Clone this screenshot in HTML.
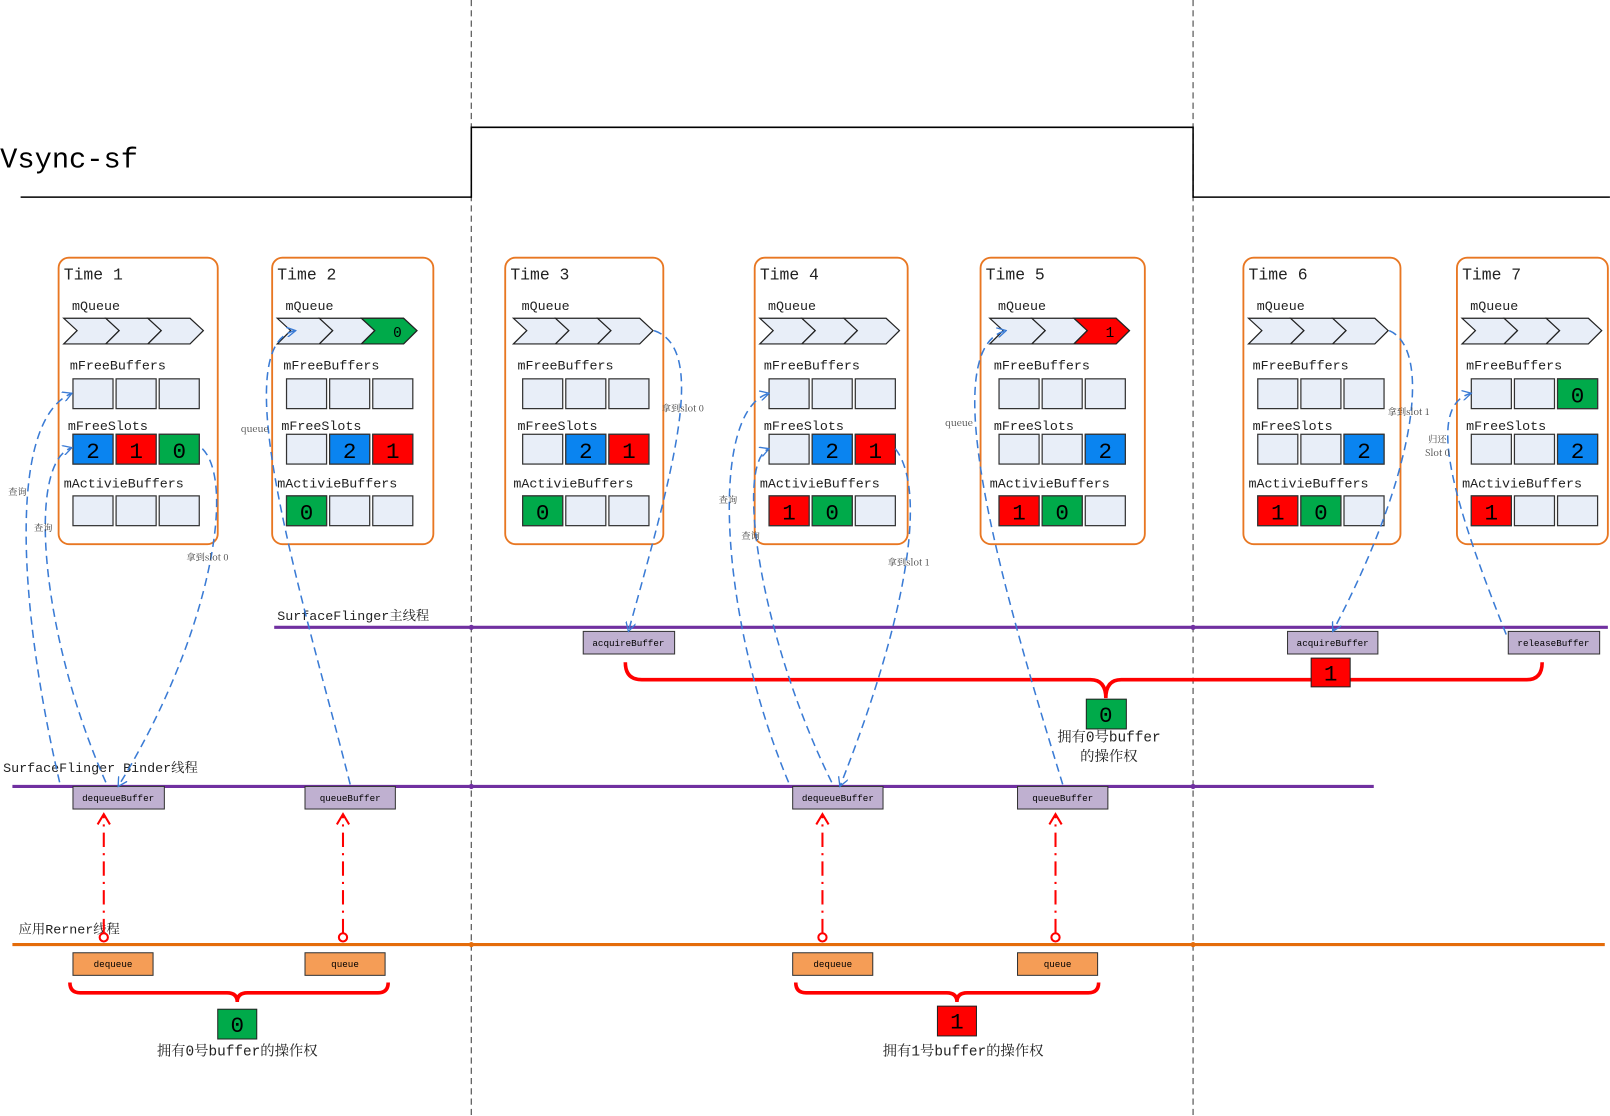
<!DOCTYPE html>
<html><head><meta charset="utf-8"><style>html,body{margin:0;padding:0;background:#fff}svg{display:block}
.c{stroke:#333;stroke-width:1.2}.e{fill:#E8EEF8}.b{fill:#0A84F0}.r{fill:#FF0000}.g{fill:#00AA4A}
.ch{stroke:#222;stroke-width:1.2}
.n{font-size:22px;text-anchor:middle}
.lb{font-size:13px;fill:#222}
</style></head>
<body>
<svg width="1610" height="1116" viewBox="0 0 1568 1087" xmlns="http://www.w3.org/2000/svg" xmlns:xlink="http://www.w3.org/1999/xlink" font-family="Liberation Mono, 'Noto Serif CJK SC', 'Noto Sans CJK SC', monospace">
<defs>
<marker id="ab" markerWidth="10" markerHeight="10" refX="9" refY="5" orient="auto" markerUnits="userSpaceOnUse"><path d="M0,0 L9,5 L0,10" fill="none" stroke="#3A7BD5" stroke-width="1.3"/></marker>
<marker id="ar" markerWidth="14" markerHeight="14" refX="11" refY="7" orient="auto" markerUnits="userSpaceOnUse"><path d="M1,1 L11,7 L1,13" fill="none" stroke="#f00" stroke-width="2"/></marker>
<g id="base">
<polygon class="ch e" points="5,310 46,310 59,322 46,335 5,335 18,322"/>
<polygon class="ch e" points="46,310 87,310 100,322 87,335 46,335 59,322"/>
<polygon class="ch e" points="87,310 128,310 141,322 128,335 87,335 100,322"/>
<rect class="c e" x="14" y="369" width="39" height="29"/><rect class="c e" x="56" y="369" width="39" height="29"/><rect class="c e" x="98" y="369" width="39" height="29"/>
<rect class="c e" x="14" y="423" width="39" height="29"/><rect class="c e" x="56" y="423" width="39" height="29"/><rect class="c e" x="98" y="423" width="39" height="29"/>
<rect class="c e" x="14" y="483" width="39" height="29"/><rect class="c e" x="56" y="483" width="39" height="29"/><rect class="c e" x="98" y="483" width="39" height="29"/>
</g>
</defs>
<line x1="459" y1="0" x2="459" y2="1087" stroke="#666" stroke-dasharray="6,4" stroke-width="1.3"/>
<line x1="1162" y1="0" x2="1162" y2="1087" stroke="#666" stroke-dasharray="6,4" stroke-width="1.3"/>
<polyline points="20,192 459,192 459,124 1162,124 1162,192 1568,192" fill="none" stroke="#000" stroke-width="1.5"/>
<text x="0" y="163" font-size="28">Vsync-sf</text>

<!-- Time 1 -->
<g transform="translate(57,0)">
<rect x="0" y="251" width="155" height="279" rx="10" fill="#fff" stroke="#E87722" stroke-width="1.8"/>
<use href="#base" xlink:href="#base"/>
<text x="5" y="272" font-size="16" fill="#222">Time 1</text>
<text class="lb" x="13" y="302">mQueue</text><text class="lb" x="11" y="360">mFreeBuffers</text><text class="lb" x="9" y="419">mFreeSlots</text><text class="lb" x="5" y="475">mActivieBuffers</text>
<rect class="c b" x="14" y="423" width="39" height="29"/><rect class="c r" x="56" y="423" width="39" height="29"/><rect class="c g" x="98" y="423" width="39" height="29"/>
<text class="n" x="33.5" y="446">2</text><text class="n" x="75.5" y="446">1</text><text class="n" x="117.5" y="446">0</text>
</g>
<!-- Time 2 -->
<g transform="translate(265,0)">
<rect x="0" y="251" width="157" height="279" rx="10" fill="#fff" stroke="#E87722" stroke-width="1.8"/>
<use href="#base" xlink:href="#base"/>
<text x="5" y="272" font-size="16" fill="#222">Time 2</text>
<text class="lb" x="13" y="302">mQueue</text><text class="lb" x="11" y="360">mFreeBuffers</text><text class="lb" x="9" y="419">mFreeSlots</text><text class="lb" x="5" y="475">mActivieBuffers</text>
<polygon class="ch g" points="87,310 128,310 141,322 128,335 87,335 100,322"/><text x="122" y="328" font-size="14" text-anchor="middle">0</text>
<rect class="c b" x="56" y="423" width="39" height="29"/><rect class="c r" x="98" y="423" width="39" height="29"/>
<text class="n" x="75.5" y="446">2</text><text class="n" x="117.5" y="446">1</text>
<rect class="c g" x="14" y="483" width="39" height="29"/><text class="n" x="33.5" y="506">0</text>
</g>
<!-- Time 3 -->
<g transform="translate(492,0)">
<rect x="0" y="251" width="154" height="279" rx="10" fill="#fff" stroke="#E87722" stroke-width="1.8"/>
<g transform="translate(3,0)"><use href="#base" xlink:href="#base"/></g>
<text x="5" y="272" font-size="16" fill="#222">Time 3</text>
<text class="lb" x="16" y="302">mQueue</text><text class="lb" x="12" y="360">mFreeBuffers</text><text class="lb" x="12" y="419">mFreeSlots</text><text class="lb" x="8" y="475">mActivieBuffers</text>
<rect class="c b" x="59" y="423" width="39" height="29"/><rect class="c r" x="101" y="423" width="39" height="29"/>
<text class="n" x="78.5" y="446">2</text><text class="n" x="120.5" y="446">1</text>
<rect class="c g" x="17" y="483" width="39" height="29"/><text class="n" x="36.5" y="506">0</text>
</g>
<!-- Time 4 -->
<g transform="translate(735,0)">
<rect x="0" y="251" width="149" height="279" rx="10" fill="#fff" stroke="#E87722" stroke-width="1.8"/>
<use href="#base" xlink:href="#base"/>
<text x="5" y="272" font-size="16" fill="#222">Time 4</text>
<text class="lb" x="13" y="302">mQueue</text><text class="lb" x="9" y="360">mFreeBuffers</text><text class="lb" x="9" y="419">mFreeSlots</text><text class="lb" x="5" y="475">mActivieBuffers</text>
<rect class="c b" x="56" y="423" width="39" height="29"/><rect class="c r" x="98" y="423" width="39" height="29"/>
<text class="n" x="75.5" y="446">2</text><text class="n" x="117.5" y="446">1</text>
<rect class="c r" x="14" y="483" width="39" height="29"/><rect class="c g" x="56" y="483" width="39" height="29"/>
<text class="n" x="33.5" y="506">1</text><text class="n" x="75.5" y="506">0</text>
</g>
<!-- Time 5 -->
<g transform="translate(955,0)">
<rect x="0" y="251" width="160" height="279" rx="10" fill="#fff" stroke="#E87722" stroke-width="1.8"/>
<g transform="translate(4,0)"><use href="#base" xlink:href="#base"/></g>
<text x="5" y="272" font-size="16" fill="#222">Time 5</text>
<text class="lb" x="17" y="302">mQueue</text><text class="lb" x="13" y="360">mFreeBuffers</text><text class="lb" x="13" y="419">mFreeSlots</text><text class="lb" x="9" y="475">mActivieBuffers</text>
<polygon class="ch r" points="91,310 132,310 145,322 132,335 91,335 104,322"/><text x="126" y="328" font-size="14" text-anchor="middle">1</text>
<rect class="c b" x="102" y="423" width="39" height="29"/><text class="n" x="121.5" y="446">2</text>
<rect class="c r" x="18" y="483" width="39" height="29"/><rect class="c g" x="60" y="483" width="39" height="29"/>
<text class="n" x="37.5" y="506">1</text><text class="n" x="79.5" y="506">0</text>
</g>
<!-- Time 6 -->
<g transform="translate(1211,0)">
<rect x="0" y="251" width="153" height="279" rx="10" fill="#fff" stroke="#E87722" stroke-width="1.8"/>
<use href="#base" xlink:href="#base"/>
<text x="5" y="272" font-size="16" fill="#222">Time 6</text>
<text class="lb" x="13" y="302">mQueue</text><text class="lb" x="9" y="360">mFreeBuffers</text><text class="lb" x="9" y="419">mFreeSlots</text><text class="lb" x="5" y="475">mActivieBuffers</text>
<rect class="c b" x="98" y="423" width="39" height="29"/><text class="n" x="117.5" y="446">2</text>
<rect class="c r" x="14" y="483" width="39" height="29"/><rect class="c g" x="56" y="483" width="39" height="29"/>
<text class="n" x="33.5" y="506">1</text><text class="n" x="75.5" y="506">0</text>
</g>
<!-- Time 7 -->
<g transform="translate(1419,0)">
<rect x="0" y="251" width="147" height="279" rx="10" fill="#fff" stroke="#E87722" stroke-width="1.8"/>
<use href="#base" xlink:href="#base"/>
<text x="5" y="272" font-size="16" fill="#222">Time 7</text>
<text class="lb" x="13" y="302">mQueue</text><text class="lb" x="9" y="360">mFreeBuffers</text><text class="lb" x="9" y="419">mFreeSlots</text><text class="lb" x="5" y="475">mActivieBuffers</text>
<rect class="c g" x="98" y="369" width="39" height="29"/><text class="n" x="117.5" y="392">0</text>
<rect class="c b" x="98" y="423" width="39" height="29"/><text class="n" x="117.5" y="446">2</text>
<rect class="c r" x="14" y="483" width="39" height="29"/><text class="n" x="33.5" y="506">1</text>
</g>

<line x1="267" y1="611" x2="1566" y2="611" stroke="#7030A0" stroke-width="3"/>
<text x="270" y="604" font-size="13" fill="#222">SurfaceFlinger主线程</text>
<line x1="12" y1="766" x2="1338" y2="766" stroke="#7030A0" stroke-width="3"/>
<text x="3" y="752" font-size="13" fill="#222">SurfaceFlinger Binder线程</text>
<line x1="12" y1="920" x2="1563" y2="920" stroke="#E46C0A" stroke-width="3"/>
<text x="18" y="909" font-size="13" fill="#222">应用Rerner线程</text>

<g font-size="9" text-anchor="middle" stroke="#333" stroke-width="1">
<rect x="568" y="615" width="89" height="22" fill="#BFB0D0"/><text x="612" y="629" stroke="none">acquireBuffer</text>
<rect x="1254" y="615" width="88" height="22" fill="#BFB0D0"/><text x="1298" y="629" stroke="none">acquireBuffer</text>
<rect x="1469" y="615" width="89" height="22" fill="#BFB0D0"/><text x="1513" y="629" stroke="none">releaseBuffer</text>
<rect x="71" y="766" width="89" height="22" fill="#BFB0D0"/><text x="115" y="780" stroke="none">dequeueBuffer</text>
<rect x="297" y="766" width="88" height="22" fill="#BFB0D0"/><text x="341" y="780" stroke="none">queueBuffer</text>
<rect x="772" y="766" width="88" height="22" fill="#BFB0D0"/><text x="816" y="780" stroke="none">dequeueBuffer</text>
<rect x="991" y="766" width="88" height="22" fill="#BFB0D0"/><text x="1035" y="780" stroke="none">queueBuffer</text>
<rect x="71" y="928" width="78" height="22" fill="#F59D56"/><text x="110" y="942" stroke="none">dequeue</text>
<rect x="297" y="928" width="78" height="22" fill="#F59D56"/><text x="336" y="942" stroke="none">queue</text>
<rect x="772" y="928" width="78" height="22" fill="#F59D56"/><text x="811" y="942" stroke="none">dequeue</text>
<rect x="991" y="928" width="78" height="22" fill="#F59D56"/><text x="1030" y="942" stroke="none">queue</text>
</g>

<g stroke="#f00" stroke-width="2" fill="none" stroke-dasharray="14,6,2,6">
<line x1="101" y1="909" x2="101" y2="793" marker-end="url(#ar)"/>
<line x1="334" y1="909" x2="334" y2="793" marker-end="url(#ar)"/>
<line x1="801" y1="909" x2="801" y2="793" marker-end="url(#ar)"/>
<line x1="1028" y1="909" x2="1028" y2="793" marker-end="url(#ar)"/>
</g>
<g fill="#fff" stroke="#f00" stroke-width="2">
<circle cx="101" cy="913" r="4"/><circle cx="334" cy="913" r="4"/><circle cx="801" cy="913" r="4"/><circle cx="1028" cy="913" r="4"/>
</g>

<g stroke="#f00" stroke-width="3.5" fill="none">
<path d="M68,957 Q68,967 78,967 L221,967 Q231,967 231,976 Q231,967 241,967 L368,967 Q378,967 378,957"/>
<path d="M775,957 Q775,967 785,967 L922,967 Q932,967 932,976 Q932,967 942,967 L1060,967 Q1070,967 1070,957"/>
<path d="M609,645 Q609,662 625,662 L1062,662 Q1077,662 1077,680 Q1077,662 1092,662 L1487,662 Q1502,662 1502,645"/>
</g>
<g stroke="#222" stroke-width="1">
<rect x="212" y="983" width="38" height="29" fill="#00AA4A"/>
<rect x="913" y="980" width="38" height="29" fill="#FF0000"/>
<rect x="1058" y="681" width="39" height="29" fill="#00AA4A"/>
<rect x="1277" y="641" width="38" height="28" fill="#FF0000"/>
</g>
<g font-size="22" text-anchor="middle">
<text x="231" y="1005">0</text><text x="932" y="1002">1</text><text x="1077" y="703">0</text><text x="1296" y="663">1</text>
</g>
<g font-size="14" text-anchor="middle" fill="#222">
<text x="231" y="1028">拥有0号buffer的操作权</text>
<text x="938" y="1028">拥有1号buffer的操作权</text>
<text x="1080" y="722">拥有0号buffer</text>
<text x="1080" y="741">的操作权</text>
</g>

<g stroke="#3A7BD5" stroke-width="1.5" fill="none" stroke-dasharray="8,5" marker-end="url(#ab)">
<path d="M58,762 C20,600 5,410 70,383"/>
<path d="M103,762 C40,620 25,450 70,436"/>
<path d="M197,437 C230,470 205,620 115,766"/>
<path d="M341,764 C300,600 215,335 288,322"/>
<path d="M637,322 C690,340 655,460 612,615"/>
<path d="M768,762 C700,600 690,400 749,383"/>
<path d="M810,762 C740,620 715,450 749,437"/>
<path d="M872,437 C905,480 880,610 818,766"/>
<path d="M1035,764 C985,600 905,340 980,322"/>
<path d="M1353,322 C1395,340 1380,460 1298,615"/>
<path d="M1467,618 C1420,500 1385,395 1433,383"/>
</g>
<g font-size="9" fill="#444" text-anchor="middle" font-family="'Noto Serif CJK SC','Liberation Serif',serif">
<text x="17" y="482">查询</text><text x="42" y="517">查询</text>
<text x="202" y="546">拿到slot 0</text>
<text x="248" y="421">queue</text>
<text x="665" y="401">拿到slot 0</text>
<text x="709" y="490">查询</text><text x="731" y="525">查询</text>
<text x="885" y="551">拿到slot 1</text>
<text x="934" y="415">queue</text>
<text x="1372" y="404">拿到slot 1</text>
<text x="1400" y="431">归还</text><text x="1400" y="444">Slot 0</text>
</g>
<g fill="#7030A0"><circle cx="459" cy="611" r="2.5"/><circle cx="1162" cy="611" r="2.5"/><circle cx="459" cy="766" r="2.5"/><circle cx="1162" cy="766" r="2.5"/></g>
<g fill="#E46C0A"><circle cx="459" cy="920" r="2.5"/><circle cx="1162" cy="920" r="2.5"/></g>
</svg>
</body></html>
